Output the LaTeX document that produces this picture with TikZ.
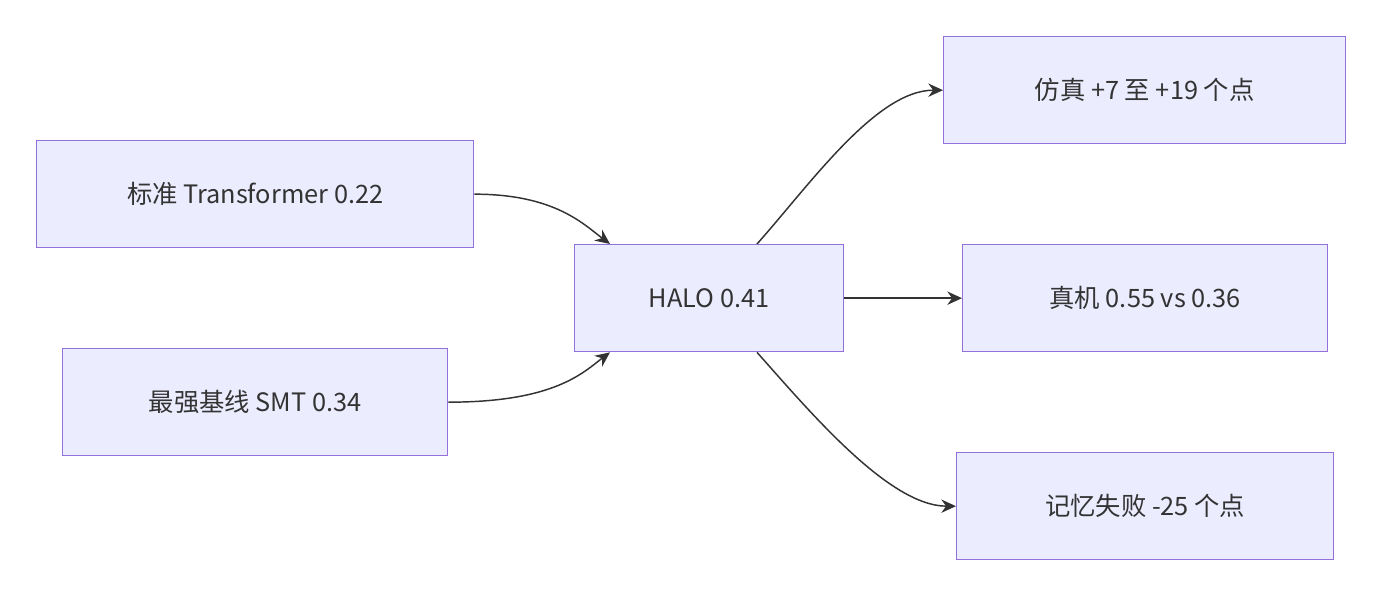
\documentclass[tikz,border=0pt]{standalone}
\usepackage{fontspec}
\setmainfont{Noto Sans CJK SC}
\usetikzlibrary{arrows.meta}
\definecolor{boxfill}{HTML}{ECECFF}
\definecolor{boxline}{HTML}{9370DB}
\definecolor{txt}{HTML}{333333}
\begin{document}
\begin{tikzpicture}[x=0.75pt,y=-0.75pt,
  box/.style={draw=boxline,fill=boxfill,line width=1pt,text=txt,font=\fontsize{19}{22}\selectfont,inner sep=0pt,anchor=north west},
  edge/.style={draw=txt,line width=1.1pt,-{Stealth[length=11pt,width=10pt]}}]
\useasboundingbox (0,0) rectangle (1382,596);
\node[box,minimum width=437*0.75pt,minimum height=107*0.75pt] (A) at (36,140) {标准 Transformer 0.22};
\node[box,minimum width=385*0.75pt,minimum height=107*0.75pt] (B) at (62,348) {最强基线 SMT 0.34};
\node[box,minimum width=269*0.75pt,minimum height=107*0.75pt] (H) at (574,244) {HALO 0.41};
\node[box,minimum width=402*0.75pt,minimum height=107*0.75pt] (R1) at (943,36) {仿真 +7 至 +19 个点};
\node[box,minimum width=365*0.75pt,minimum height=107*0.75pt] (R2) at (962,244) {真机 0.55 vs 0.36};
\node[box,minimum width=377*0.75pt,minimum height=107*0.75pt] (R3) at (956,452) {记忆失败 -25 个点};
\coordinate (Hnl) at ([xshift=36*0.75pt]H.north west);
\coordinate (Hsl) at ([xshift=36*0.75pt]H.south west);
\coordinate (Hnr) at ([xshift=183*0.75pt]H.north west);
\coordinate (Hsr) at ([xshift=183*0.75pt]H.south west);
\draw[edge] (A.east) .. controls +(60pt,0) and +(-20pt,15pt) .. (Hnl);
\draw[edge] (B.east) .. controls +(80pt,0) and +(-20pt,-15pt) .. (Hsl);
\draw[edge] (Hnr) .. controls +(40pt,45pt) and +(-50pt,0) .. (R1.west);
\draw[edge] (H.east) -- (R2.west);
\draw[edge] (Hsr) .. controls +(40pt,-45pt) and +(-50pt,0) .. (R3.west);
\end{tikzpicture}
\end{document}
